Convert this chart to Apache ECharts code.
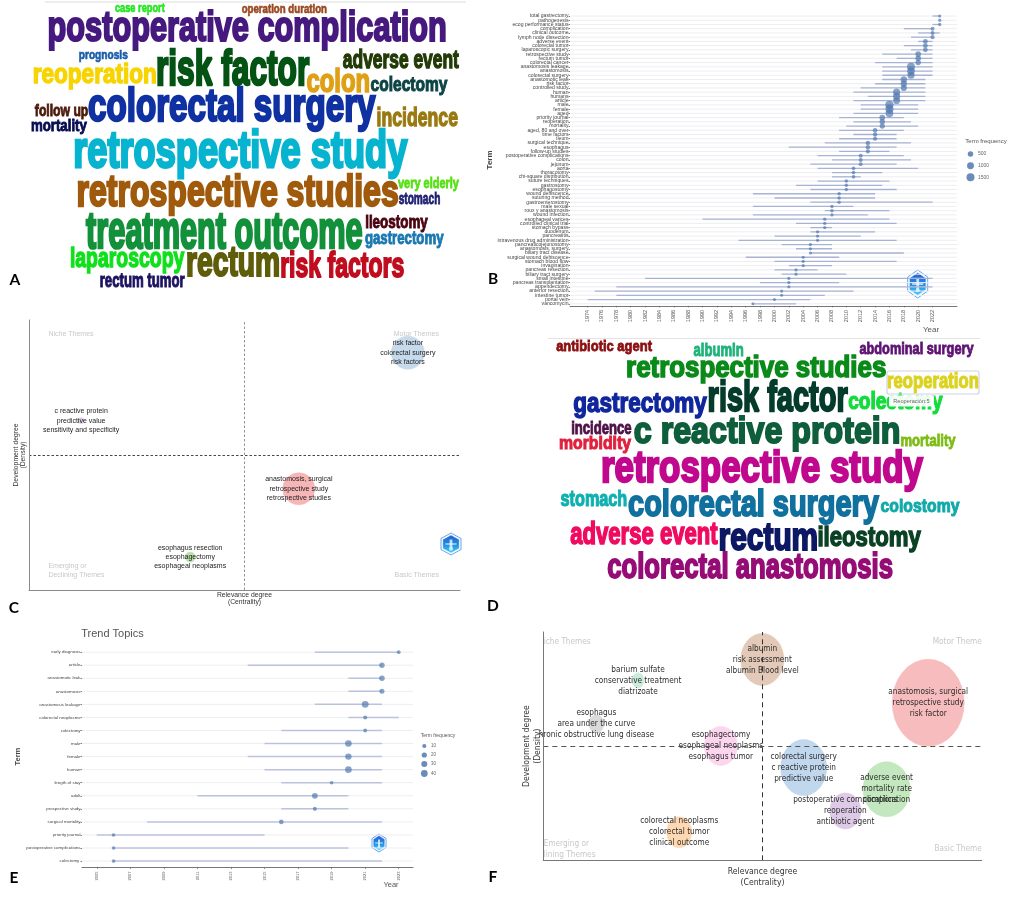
<!DOCTYPE html>
<html><head><meta charset="utf-8">
<style>html,body{margin:0;padding:0;background:#fff}#c{width:1013px;height:898px}</style>
<script src="https://cdn.jsdelivr.net/npm/echarts@6/dist/echarts.min.js"></script>
</head><body><div id="c"></div>
<script>
// ---------- Panel A word cloud
const wordsA=["postoperative complication","case report","operation duration","prognosis","risk factor","adverse event","reoperation","colon","colectomy","colorectal surgery","follow up","mortality","incidence","retrospective study","retrospective studies","very elderly","stomach","treatment outcome","ileostomy","gastrectomy","laparoscopy","rectum","risk factors","rectum tumor"];
const colorsA=["#46197f","#22e61e","#9a4a22","#1b5fa8","#045214","#223a06","#f7d400","#e0a015","#0c4446","#0f31a2","#4c1a0a","#060a50","#9a7a10","#07b4d0","#a05a0c","#55e012","#1e2070","#12903a","#4a0410","#1a78b0","#0ee01a","#5f5c0a","#c00c1e","#1c1260"];
const boxesA=[[48.3,9.5,445.7,50],[115,4,165,15],[241.7,3,326.7,15.5],[79,49.3,127.7,61.7],[156.7,47.7,310,87.3],[342.7,49,459.3,69.3],[33.3,62.7,156,89.3],[306.7,67.7,369.3,93.3],[370.7,75.3,448,95.7],[88.3,87.3,376.7,131.7],[34.7,103.3,88.3,119.3],[31.3,119.3,87.3,135],[377.3,106,458,126.7],[74,128.3,408.7,178.3],[77.3,173.3,398.3,216],[397.7,177.3,459.3,191.7],[398.7,191.7,440,205],[85.3,213.3,362.7,250],[365.7,214,428.3,232.3],[365,231.7,444,248.3],[70.7,246.7,185,273.3],[186.7,248.3,279.3,278.3],[280.7,250,404,278.3],[100,273.3,185,288.3]];
// ---------- Panel D word cloud
const wordsD=["antibiotic agent","albumin","abdominal surgery","retrospective studies","risk factor","gastrectomy","colectomy","reoperation","incidence","c reactive protein","morbidity","mortality","retrospective study","stomach","colorectal surgery","colostomy","adverse event","rectum","ileostomy","colorectal anastomosis"];
const colorsD=["#8a0f10","#1fb37c","#5e1272","#0a8a18","#043b2a","#10269c","#12dc3c","#dcd220","#4e1046","#0e5e3c","#e0203c","#7cbc14","#c0088e","#0fb0b0","#10709e","#10aaa8","#f00a60","#0c1864","#0a4024","#960c76"];
const boxesD=[[556,340,652.3,355],[693.3,341.7,743.3,356.7],[859.3,341.7,974,357.7],[626.7,355,886,383.3],[708.3,380,848.3,413.3],[573.3,393.3,707.7,418.3],[848.3,391.7,943.3,414.3],[887.3,372.3,978.3,393.3],[571.7,420,631.7,434.3],[634,415,899.3,451.7],[559.3,435,631.7,453.3],[900.7,434.3,956,450],[601.7,449,924.3,492.7],[560.7,489,626.7,506.7],[628.3,488.3,880,525],[880.7,498.3,960,516.7],[570,521.7,718.3,545.7],[719.3,523.3,817.3,551.7],[818.3,525,921.7,552.3],[607.3,551.7,892.7,580]];
// ---------- Panel B trend topics
const termsB=["total gastrectomy","pathogenesis","ecog performance status","complication","clinical outcome","lymph node dissection","adverse event","colorectal tumor","laparoscopic surgery","retrospective study","rectum tumor","colorectal cancer","anastomosis leakage","anastomosis","colorectal surgery","anastomotic leak","risk factor","controlled study","human","humans","article","male","female","aged","priority journal","reoperation","mortality","aged, 80 and over","time factors","ileum","surgical technique","esophagus","follow-up studies","postoperative complications","colon","jejunum","aorta","thoracotomy","chi-square distribution","suture techniques","gastrostomy","esophagostomy","wound dehiscence","suturing method","gastroenterostomy","male sexual","roux y anastomosis","wound infection","esophageal varices","controlled clinical trial","stomach bypass","duodenum","pancreatitis","intravenous drug administration","pancreaticojejunostomy","anastomosis, surgery","biliary tract disease","surgical wound dehiscence","stomach blood flow","invagination","pancreas resection","biliary tract surgery","small intestine","pancreas transplantation","appendectomy","anterior resection","intestine tumor","portal vein","vancomycin"];
const startB=[2022,2023,2022,2018,2020,2019,2020,2018,2019,2015,2017,2014,2015,2015,2015,2015,2014,2012,2011,2013,2011,2012,2012,2011,2009,2011,2010,2009,2011,2009,2007,2002,2009,2006,2008,2005,2006,2008,2008,2006,2003,2005,1997,2000,2005,1997,2007,1997,1990,2003,2005,2005,2000,1995,2001,2003,2005,1996,2000,2002,2000,2001,1982,1998,1978,1975,1978,1974,1997];
const medianB=[2023,2023,2023,2022,2022,2022,2021,2021,2021,2020,2020,2020,2019,2019,2019,2018,2018,2018,2017,2017,2017,2016,2016,2016,2015,2015,2015,2014,2014,2014,2013,2013,2013,2012,2012,2012,2011,2011,2011,2010,2010,2010,2009,2009,2009,2008,2008,2008,2007,2007,2007,2006,2006,2006,2005,2005,2005,2004,2004,2004,2003,2003,2002,2002,2002,2001,2001,2000,1997];
const endB=[2023,2023,2023,2022,2023,2022,2022,2022,2022,2022,2022,2022,2022,2022,2022,2021,2021,2021,2021,2021,2021,2020,2020,2020,2018,2019,2020,2018,2017,2017,2019,2017,2016,2018,2019,2017,2020,2015,2012,2016,2015,2017,2014,2014,2022,2011,2016,2013,2016,2017,2008,2014,2012,2017,2008,2008,2018,2009,2017,2008,2006,2010,2022,2009,2022,2011,2007,2005,2003];
const freqB=[60,70,80,170,160,190,340,330,310,560,520,480,1500,1350,1100,800,780,720,1100,1080,1000,1600,1550,1400,560,500,440,260,240,200,260,230,200,180,170,160,120,110,110,100,100,90,100,90,90,80,80,70,80,70,70,70,70,60,70,60,60,60,60,60,60,55,55,60,55,50,50,50,50];
const yearTicksB=[1974,1976,1978,1980,1982,1984,1986,1988,1990,1992,1994,1996,1998,2000,2002,2004,2006,2008,2010,2012,2014,2016,2018,2020,2022];
const legendB=[500,1000,1500];
// ---------- Panel E trend topics
const termsE=["early diagnosis","article","anastomotic leak","anastomosis","anastomosis leakage","colorectal neoplasms","colectomy","male","female","human","length of stay","adult","prospective study","surgical mortality","priority journal","postoperative complications","colectomy "];
const startE=[2018,2014,2020,2020,2018,2020,2016,2015,2014,2015,2016,2011,2016,2008,2005,2006,2006];
const medianE=[2023,2022,2022,2022,2021,2021,2021,2020,2020,2020,2019,2018,2018,2016,2006,2006,2006];
const endE=[2023,2022,2022,2022,2022,2023,2022,2022,2022,2022,2022,2020,2020,2022,2015,2020,2022];
const freqE=[8,22,24,18,42,10,8,38,34,38,7,26,10,14,7,7,7];
const yearTicksE=[2005,2007,2009,2011,2013,2015,2017,2019,2021,2023];
const legendE=[10,20,30,40];
// ---------- Panel C strategic map
const labelsC=[["risk factor","colorectal surgery","risk factors"],["c reactive protein","predictive value","sensitivity and specificity"],["anastomosis, surgical","retrospective study","retrospective studies"],["esophagus resection","esophagectomy","esophageal neoplasms"]];
const centralityC=[87.9,12.1,62.6,37.4];
const densityC=[87.9,62.7,37.5,12.2];
const sizeC=[33,6,32,10];
const colorC=["#c4d8ea","#decbe4","#f6b2b4","#b5dfa8"];
// ---------- Panel F strategic map
const labelsF=[["albumin","risk assessment","albumin Blood level"],["barium sulfate","conservative treatment","diatrizoate"],["esophagus","area under the curve","hronic obstructive lung disease"],["esophagectomy","esophageal neoplasms","esophagus tumor"],["anastomosis, surgical","retrospective study","risk factor"],["colorectal surgery","c reactive protein","predictive value"],["adverse event","mortality rate","complication"],["postoperative complications","reoperation","antibiotic agent"],["colorectal neoplasms","colorectal tumor","clinical outcome"]];
const centralityF=[49.96,21.6,12.1,40.5,87.8,59.4,78.3,68.9,31.0];
const densityF=[88.0,78.8,59.8,50.1,69.0,40.6,31.1,21.6,12.3];
const widthF=[43,12,15,33,72,46,47,31,25];
const heightF=[52,15,18,39,87,56,55,36,31];
const colorF=["#e0c6b4","#c8ebd9","#d8d8d8","#fcd3ee","#f7b9ba","#bdd5ec","#c0e6ba","#dcc7e6","#fdd6ae"];

const ctx=document.createElement('canvas').getContext('2d');
const wordFont='bold 60px "Liberation Sans Narrow","Liberation Sans"';
ctx.font=wordFont;ctx.textBaseline='middle';ctx.textAlign='left';
function wordSeries(words,colors,boxes){
  return {type:'custom',coordinateSystem:'cartesian2d',xAxisIndex:0,yAxisIndex:0,silent:true,clip:false,z:3,
    data:boxes.map((b,i)=>[b[0],b[1],b[2],b[3],i]),encode:{x:0,y:1},
    renderItem(p,api){
      const i=api.value(4),a=api.coord([api.value(0),api.value(1)]),b=api.coord([api.value(2),api.value(3)]);
      const m=ctx.measureText(words[i]);
      const lw=3.2;
      const l=-m.actualBoundingBoxLeft-lw/2,r=m.actualBoundingBoxRight+lw/2,t=-m.actualBoundingBoxAscent-lw/2,d=m.actualBoundingBoxDescent+lw/2;
      const sx=(b[0]-a[0])/(r-l),sy=(b[1]-a[1])/(d-t);
      return {type:'text',x:a[0]-l*sx,y:a[1]-t*sy,scaleX:sx,scaleY:sy,
        style:{text:words[i],font:wordFont,fill:colors[i],stroke:colors[i],lineWidth:lw,align:'left',verticalAlign:'middle'}};
    }};
}
function trendSegments(ax,ay,start,end,xr,lineW,lineC){
  return {type:'custom',coordinateSystem:'cartesian2d',xAxisIndex:ax,yAxisIndex:ay,silent:true,z:2,
    data:start.map((s,i)=>[s,i,end[i]]),encode:{x:0,y:1},
    renderItem(p,api){
      const s=api.coord([api.value(0),api.value(1)]),e=api.coord([api.value(2),api.value(1)]);
      const g0=api.coord([xr[0],api.value(1)]),g1=api.coord([xr[1],api.value(1)]);
      return {type:'group',children:[
        {type:'line',shape:{x1:g0[0],y1:g0[1],x2:g1[0],y2:g1[1]},style:{stroke:'#eeeef2',lineWidth:1}},
        {type:'line',shape:{x1:s[0],y1:s[1],x2:e[0],y2:e[1]},style:{stroke:lineC,lineWidth:lineW}}
      ]};
    }};
}
const sizeB=f=>2+0.155*Math.sqrt(f);
const sizeE=f=>1.4+0.85*Math.sqrt(f);
const dotC='rgba(72,115,170,0.82)';
function dots(ax,ay,med,freq,sizeFn){
  return {type:'scatter',xAxisIndex:ax,yAxisIndex:ay,silent:true,z:4,clip:false,
    data:med.map((m,i)=>[m,i,freq[i]]),symbolSize:v=>sizeFn(v[2]),itemStyle:{color:dotC}};
}
function bubbles(ax,ay,xs,ys,sizes,colors,labels,fs,lh,ff,tc,mark){
  return {type:'scatter',xAxisIndex:ax,yAxisIndex:ay,silent:true,z:4,clip:false,
    data:xs.map((x,i)=>({value:[x,ys[i]],symbolSize:sizes(i),
      itemStyle:{color:colors[i],opacity:0.95,borderColor:colors[i],borderWidth:0.6},
      label:{show:true,position:'inside',formatter:labels[i].join('\n'),fontSize:fs,lineHeight:lh,fontFamily:ff,color:tc}})),
    markLine:mark};
}
function quad(ax,ay,items,fs,lh,ff){
  return {type:'scatter',xAxisIndex:ax,yAxisIndex:ay,silent:true,symbolSize:0,z:5,clip:false,
    data:items.map(t=>({value:[t[1],t[2]],label:{show:true,position:'inside',align:t[3],verticalAlign:'middle',
      formatter:t[0],fontSize:fs,lineHeight:lh,fontFamily:ff,color:'#b9b9b9'}}))};
}
function logo(cx,cy,w,h){
  const hex=(W,H)=>[[0,-H/2],[W/2,-H/4],[W/2,H/4],[0,H/2],[-W/2,H/4],[-W/2,-H/4]];
  return {type:'group',x:cx,y:cy,z:40,children:[
    {type:'polygon',shape:{points:hex(w,h)},style:{fill:'#fff',stroke:'#3c8ee8',lineWidth:0.8}},
    {type:'polygon',shape:{points:hex(w*0.82,h*0.82)},style:{
      fill:{type:'linear',x:0,y:0,x2:0,y2:1,colorStops:[{offset:0,color:'#2a5ed2'},{offset:.55,color:'#1d8fe8'},{offset:1,color:'#4fd0fa'}]},stroke:'#fff',lineWidth:0.4}},
    {type:'rect',shape:{x:-w*.28,y:-h*.03,width:w*.56,height:h*.06},style:{fill:'#fff',opacity:.75}},
    {type:'rect',shape:{x:-w*.07,y:-h*.2,width:w*.14,height:h*.4},style:{fill:'#fff',opacity:.75}},
    {type:'circle',shape:{cx:0,cy:h*.22,r:w*.1},style:{fill:'#c8f0ff'}}
  ]};
}
const txt=(t,x,y,fs,c,o={})=>({type:'text',x,y,z:41,style:{text:t,font:(o.w||'normal')+' '+fs+'px '+(o.f||'"Liberation Sans"'),fill:c,align:o.a||'center',verticalAlign:'middle'}});
const tags=[["A",15,280],["B",493,279],["C",14,608],["D",493,606],["E",14,878],["F",493,877]];

const graphics=[
  {type:'line',z:1,shape:{x1:45,y1:2,x2:466,y2:2},style:{stroke:'#ddd',lineWidth:1}},
  {type:'line',z:1,shape:{x1:548,y1:338.5,x2:980,y2:338.5},style:{stroke:'#e4e4e4',lineWidth:1}},
  {type:'rect',z:30,shape:{x:887,y:371,width:92,height:23,r:2},style:{fill:'rgba(255,255,255,0)',stroke:'#d2d2e6',lineWidth:1.2}},
  {type:'rect',z:30,shape:{x:889,y:395.5,width:45,height:11,r:1},style:{fill:'rgba(255,255,255,0.92)'}},
  txt('Reoperación:5',911.5,401,5.6,'#666'),
  logo(917.7,284,20,28),logo(451,544,20,22),logo(379,843,14,18),
  txt('Year',931,329.5,8,'#555'),txt('Year',391,885,7.5,'#555'),
  txt('Trend Topics',112.5,633.5,11,'#555'),
  txt('Term frequency',986,141,6,'#555'),txt('Term frequency',438,736,5,'#555'),
  ...tags.map(t=>txt(t[0],t[1],t[2],15.5,'#000',{w:'bold',f:'Lato'}))
];
[154,165.7,177.3].forEach((y,i)=>{
  graphics.push({type:'circle',z:30,shape:{cx:970.5,cy:y,r:sizeB(legendB[i])/2},style:{fill:dotC}});
  graphics.push({type:'text',x:978,y,z:30,style:{text:String(legendB[i]),font:'5px "Liberation Sans"',fill:'#666',align:'left',verticalAlign:'middle'}});
});
[746,755,764,773.5].forEach((y,i)=>{
  graphics.push({type:'circle',z:30,shape:{cx:424.3,cy:y,r:sizeE(legendE[i])/2},style:{fill:dotC}});
  graphics.push({type:'text',x:431,y,z:30,style:{text:String(legendE[i]),font:'4.5px "Liberation Sans"',fill:'#666',align:'left',verticalAlign:'middle'}});
});

const hidden=(min,max,inv)=>({type:'value',gridIndex:0,min,max,inverse:!!inv,show:false,splitLine:{show:false}});
const mapX=(g,fs,gap,ff,lh,lc)=>({type:'value',gridIndex:g,min:0,max:100,z:6,name:'Relevance degree\n(Centrality)',nameLocation:'middle',nameGap:gap,
  nameTextStyle:{fontSize:fs,color:'#333',fontFamily:ff,lineHeight:lh},axisLine:{show:true,onZero:false,lineStyle:{color:lc,width:1}},axisTick:{show:false},axisLabel:{show:false},splitLine:{show:false}});
const mapY=(g,fs,gap,ff,lh,lc)=>({type:'value',gridIndex:g,min:0,max:100,z:6,name:'Development degree\n(Density)',nameLocation:'middle',nameGap:gap,nameRotate:90,
  nameTextStyle:{fontSize:fs,color:'#333',fontFamily:ff,lineHeight:lh},axisLine:{show:true,onZero:false,lineStyle:{color:lc,width:1}},axisTick:{show:false},axisLabel:{show:false},splitLine:{show:false}});
const trendX=(g,min,max,ticks,fs)=>({type:'value',gridIndex:g,min,max,splitLine:{show:false},
  axisLine:{show:true,onZero:false,lineStyle:{color:'#777',width:1}},
  axisTick:{show:true,length:1.5,lineStyle:{color:'#555',width:.6},customValues:ticks},
  axisLabel:{show:true,rotate:90,fontSize:fs,color:'#555',margin:4,customValues:ticks,formatter:v=>String(v),hideOverlap:false,showMinLabel:true,showMaxLabel:true,fontFamily:'Liberation Sans'}});
const trendY=(g,terms,fs,gap,nfs)=>({type:'category',gridIndex:g,data:terms,inverse:true,boundaryGap:true,name:'Term',nameLocation:'middle',nameGap:gap,nameRotate:90,
  nameTextStyle:{fontSize:nfs,color:'#444',fontWeight:'bold'},axisLine:{show:false},
  axisTick:{show:true,alignWithLabel:true,length:1.5,lineStyle:{color:'#333',width:.6}},
  axisLabel:{show:true,interval:0,fontSize:fs,color:'#444',margin:1.5,fontFamily:'Liberation Sans',hideOverlap:false},splitLine:{show:false}});

const mapFont='DejaVu Sans Condensed';
const option={
  animation:false,backgroundColor:'#fff',tooltip:{show:false},
  grid:[
    {left:0,top:0,width:1013,height:898,containLabel:false},
    {left:570,top:13.9,width:387,height:292,containLabel:false},
    {left:29,top:320,width:431,height:270,containLabel:false},
    {left:82,top:645.6,width:331,height:222,containLabel:false},
    {left:543.3,top:632,width:438.4,height:228.3,containLabel:false}
  ],
  xAxis:[hidden(0,1013),trendX(1,1971.55,2025.4,yearTicksB,5.5),mapX(2,6.8,1,'Liberation Sans',7.5,'#8a8a8a'),trendX(3,2004.12,2023.85,yearTicksE,4),mapX(4,8.6,6,mapFont,11,'#777')],
  yAxis:[hidden(0,898,true),trendY(1,termsB,5.1,75,8),mapY(2,6.8,2,'Liberation Sans',7.5,'#8a8a8a'),trendY(3,termsE,4.4,54,7.5),mapY(4,8.6,0,mapFont,11,'#777')],
  graphic:{elements:graphics},
  series:[
    wordSeries(wordsA,colorsA,boxesA),
    wordSeries(wordsD,colorsD,boxesD),
    trendSegments(1,1,startB,endB,[1971.55,2025.4],1.3,'rgba(150,163,205,0.8)'),
    dots(1,1,medianB,freqB,sizeB),
    trendSegments(3,3,startE,endE,[2004.12,2023.85],1.5,'rgba(150,163,205,0.6)'),
    dots(3,3,medianE,freqE,sizeE),
    bubbles(2,2,centralityC,densityC,i=>sizeC[i],colorC,labelsC,7,9.3,'Liberation Sans','#111',
      {silent:true,symbol:'none',label:{show:false},data:[
        {xAxis:50,lineStyle:{color:'#888',type:[2.5,2],width:.9}},
        {yAxis:50,lineStyle:{color:'#333',type:[2.5,2],width:.9}}]}),
    quad(2,2,[["Niche Themes",4.5,94.7,'left'],["Motor Themes",95.1,94.7,'right'],["Emerging or\nDeclining Themes",4.5,7.3,'left'],["Basic Themes",95.1,5.6,'right']],7,9.3,'Liberation Sans'),
    bubbles(4,4,centralityF,densityF,i=>[widthF[i],heightF[i]],colorF,labelsF,8.2,11,mapFont,'#222',
      {silent:true,symbol:'none',label:{show:false},data:[
        {xAxis:49.96,lineStyle:{color:'#333',type:[5,4],width:1}},
        {yAxis:50,lineStyle:{color:'#555',type:[5,4],width:1}}]}),
    quad(4,4,[["iche Themes",0.1,95.6,'left'],["Motor Theme",100,95.6,'right'],["Emerging or\nlining Themes",0.1,5,'left'],["Basic Theme",100,4.8,'right']],8.2,11,mapFont)
  ]
};
const chart=echarts.init(document.getElementById('c'),null,{renderer:'canvas'});
chart.setOption(option);
</script></body></html>
